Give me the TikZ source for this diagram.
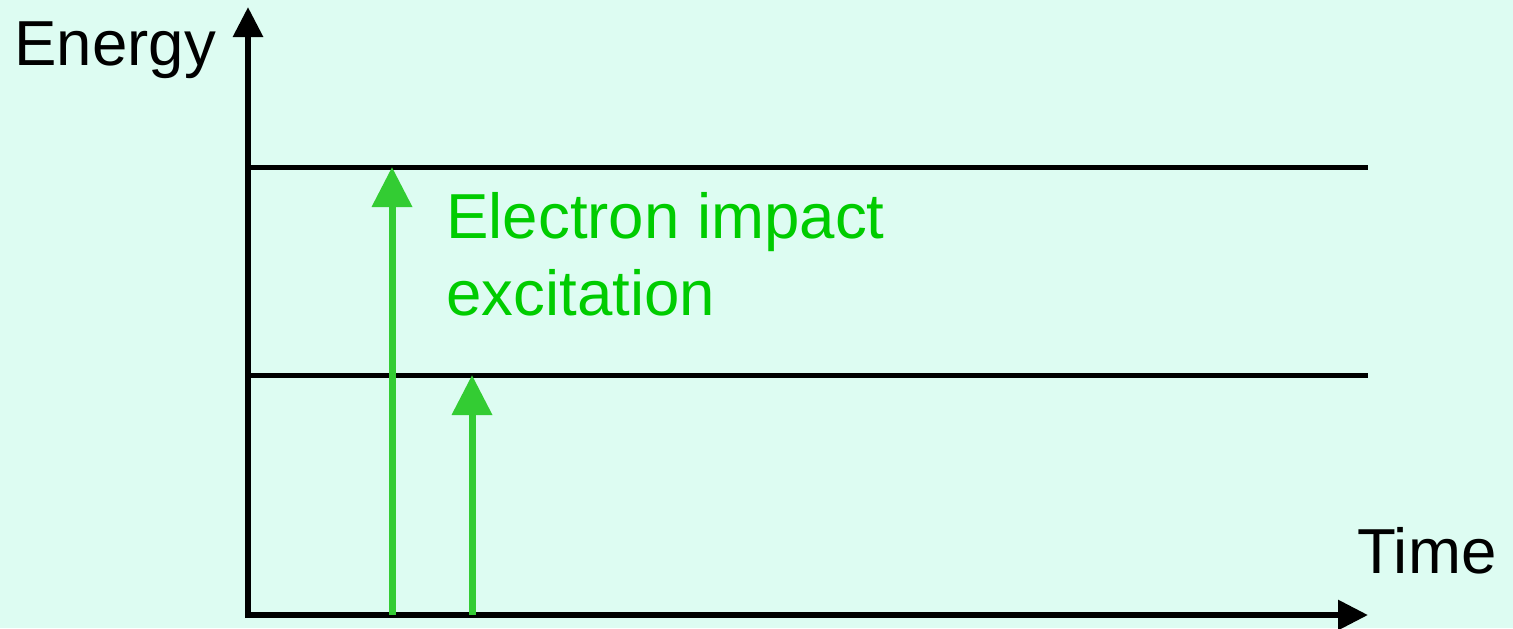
\documentclass[tikz,border=0pt]{standalone}
\usepackage{fontspec}
\setmainfont{Liberation Sans}
\usetikzlibrary{arrows.meta}
\definecolor{bg}{RGB}{221,252,242}
\definecolor{arrowgreen}{RGB}{51,204,51}
\definecolor{textgreen}{RGB}{0,204,0}
\tikzset{
  axis/.style={line width=3pt, -{Triangle[width=14.5pt,length=15pt]}},
  level/.style={line width=2.5pt},
  excite/.style={arrowgreen, line width=3.5pt, -{Triangle[width=19.5pt,length=20pt]}},
  lbl/.style={inner sep=0pt, anchor=base west, font=\fontsize{31.8pt}{38.5pt}\selectfont}
}
\begin{document}
\begin{tikzpicture}[x=0.5pt,y=-0.5pt]
\fill[bg] (0,0) rectangle (1513,628);
\useasboundingbox (0,0) rectangle (1513,628);
\coordinate (origin) at (248,615);
\coordinate (ytop) at (248,7);
\coordinate (xend) at (1368,615);
\coordinate (u0) at (248,167);
\coordinate (u1) at (1368,167);
\coordinate (l0) at (248,375);
\coordinate (l1) at (1368,375);
\coordinate (a1s) at (392,615);
\coordinate (a1e) at (392,167);
\coordinate (a2s) at (472,615);
\coordinate (a2e) at (472,375);
\draw[level] (u0) -- (u1);
\draw[level] (l0) -- (l1);
\draw[axis] ([yshift=-1.5pt]origin) -- (ytop);
\draw[axis] ([xshift=-1.5pt]origin) -- (xend);
\draw[excite] (a1s) -- (a1e);
\draw[excite] (a2s) -- (a2e);
\node[lbl] (energy) at (14,65) {Energy};
\node[lbl] (time) at (1357,573) {Time};
\node[lbl, textgreen, align=left] (eie) at (446,315) {Electron impact\\excitation};
\end{tikzpicture}
\end{document}
